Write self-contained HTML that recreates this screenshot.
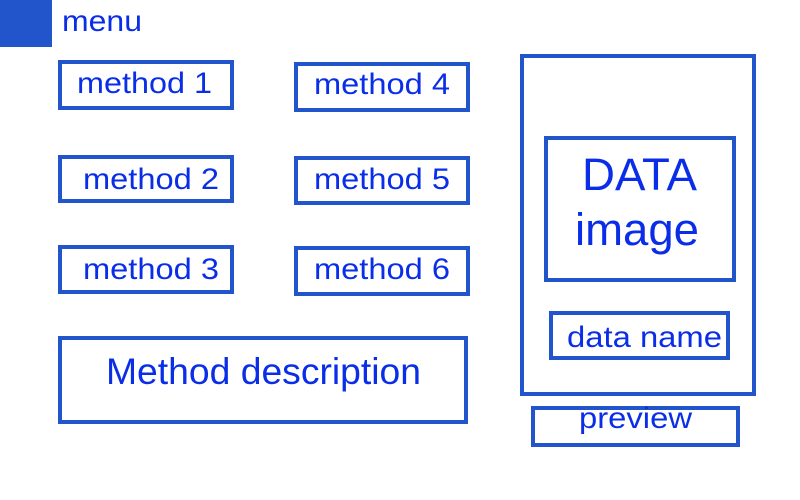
<!DOCTYPE html>
<html><head><meta charset="utf-8"><style>
html,body{margin:0;padding:0;background:#fff;}
svg{display:block;}
text{font-family:"Liberation Sans",Arial,sans-serif;fill:#0a2ee8;}
</style></head><body>
<svg width="800" height="500" viewBox="0 0 800 500">
<rect x="0" y="0" width="52" height="47" fill="#2255cc"/>
<text x="62" y="31" font-size="30" textLength="80" lengthAdjust="spacingAndGlyphs">menu</text>
<g fill="none" stroke="#2255cc" stroke-width="4">
<rect x="60" y="62" width="172" height="46"/>
<rect x="296" y="64" width="172" height="46"/>
<rect x="60" y="157" width="172" height="44"/>
<rect x="296" y="158" width="172" height="45"/>
<rect x="60" y="247" width="172" height="45"/>
<rect x="296" y="248" width="172" height="46"/>
<rect x="60" y="338" width="406" height="84"/>
<rect x="522" y="56" width="232" height="338"/>
<rect x="546" y="138" width="188" height="142"/>
<rect x="551" y="313" width="177" height="45"/>
<rect x="533" y="408" width="205" height="37"/>
</g>
<g font-size="30">
<text x="77" y="93" textLength="135" lengthAdjust="spacingAndGlyphs">method 1</text>
<text x="314" y="94" textLength="136" lengthAdjust="spacingAndGlyphs">method 4</text>
<text x="83" y="189" textLength="136" lengthAdjust="spacingAndGlyphs">method 2</text>
<text x="314" y="189" textLength="136" lengthAdjust="spacingAndGlyphs">method 5</text>
<text x="83" y="279" textLength="136" lengthAdjust="spacingAndGlyphs">method 3</text>
<text x="314" y="279" textLength="136" lengthAdjust="spacingAndGlyphs">method 6</text>
<text x="567" y="347" textLength="155" lengthAdjust="spacingAndGlyphs">data name</text>
<text x="579" y="428" textLength="113" lengthAdjust="spacingAndGlyphs">preview</text>
</g>
<text x="106" y="384" font-size="37" textLength="315" lengthAdjust="spacingAndGlyphs">Method description</text>
<text x="582" y="190" font-size="45" textLength="115" lengthAdjust="spacingAndGlyphs">DATA</text>
<text x="575" y="245" font-size="45" textLength="124" lengthAdjust="spacingAndGlyphs">image</text>
</svg>
</body></html>
